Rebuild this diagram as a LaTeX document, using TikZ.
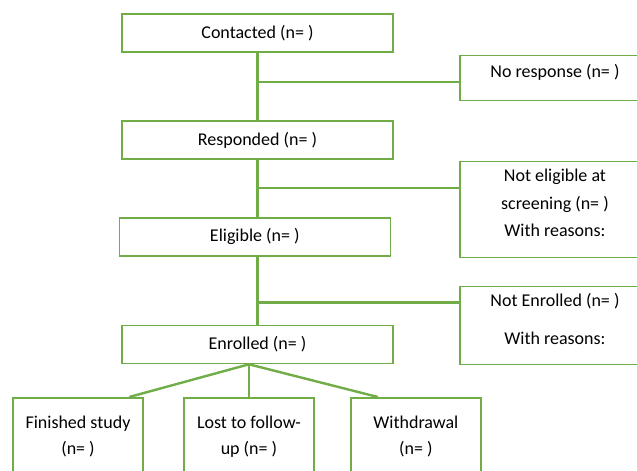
\documentclass[tikz,border=0pt]{standalone}
\usepackage{fontspec}
\setmainfont{Carlito}
\usepackage{tikz}
\usetikzlibrary{positioning, calc}

\definecolor{flowgreen}{HTML}{70AD47}

\begin{document}
\begin{tikzpicture}[
    mainbox/.style={
        rectangle,
        draw=flowgreen,
        line width=1.2pt,
        minimum width=203.25pt,
        minimum height=28.5pt,
        inner sep=2pt,
        align=center,
        font=\fontsize{13.5}{19.5}\selectfont
    },
    sidebox/.style={
        rectangle,
        draw=flowgreen,
        line width=1.2pt,
        minimum width=142.5pt,
        text depth=10pt,
        inner sep=2pt,
        align=center,
        font=\fontsize{13.5}{20.5}\selectfont
    },
    outbox/.style={
        rectangle,
        draw=flowgreen,
        line width=1.2pt,
        minimum width=97.5pt,
        minimum height=61.5pt,
        text depth=6pt,
        inner sep=2pt,
        align=center,
        font=\fontsize{13.5}{19.5}\selectfont
    },
    link/.style={
        flowgreen,
        line width=1.8pt
    }
]

% visible part of the page
\clip (-193.1pt, 24.75pt) rectangle (284.6pt, -327.75pt);

% Node 1: main column
\node[mainbox] (contacted) {Contacted (n= )};

\node[mainbox, below=50.5pt of contacted] (responded) {Responded (n= )};

\node[mainbox, below=43pt of responded, xshift=-2pt] (eligible) {Eligible (n= )};

\node[mainbox, below=51pt of eligible, xshift=2pt] (enrolled) {Enrolled (n= )};

% Node 2: exclusions on the right
\node[sidebox, minimum height=33.75pt, right=49pt of contacted, yshift=-33.75pt] (noresponse) {No response (n= )};

\node[sidebox, minimum height=72pt, below=44.5pt of noresponse] (noteligible) {
    Not eligible at\\
    screening (n= )\\
    With reasons:
};

\node[sidebox, minimum height=58.5pt, below=20.5pt of noteligible] (notenrolled) {
    Not Enrolled (n= )\\[8pt]
    With reasons:
};

% Node 3: outcomes
\node[outbox, below=24.5pt of enrolled, xshift=-6.4pt] (lost) {Lost to follow-\\up (n= )};

\node[outbox, left=29.5pt of lost] (finished) {Finished study\\(n= )};

\node[outbox, right=26.5pt of lost] (withdrawal) {Withdrawal\\(n= )};

% Branch points
\coordinate (nrbranch) at ($(noresponse.west)+(0,-3pt)$);
\coordinate (nebranch) at ($(noteligible.north west)!0.28!(noteligible.south west)$);
\coordinate (nnbranch) at ($(notenrolled.north west)!0.21!(notenrolled.south west)$);
\coordinate (fork) at (lost.north |- enrolled.south);

% Lines
\draw[link] (contacted.south) -- (contacted.south |- responded.north);
\draw[link] (responded.south) -- (responded.south |- eligible.north);
\draw[link] (responded.south |- eligible.south) -- (responded.south |- enrolled.north);

\draw[link] (contacted.south |- nrbranch) -- (nrbranch);
\draw[link] (contacted.south |- nebranch) -- (nebranch);
\draw[link] (contacted.south |- nnbranch) -- (nnbranch);

\draw[link] (fork) -- (lost.north);
\draw[link] (fork) -- ($(finished.north west)!0.89!(finished.north east)$);
\draw[link] (fork) -- ($(withdrawal.north west)!0.21!(withdrawal.north east)$);

\end{tikzpicture}
\end{document}
